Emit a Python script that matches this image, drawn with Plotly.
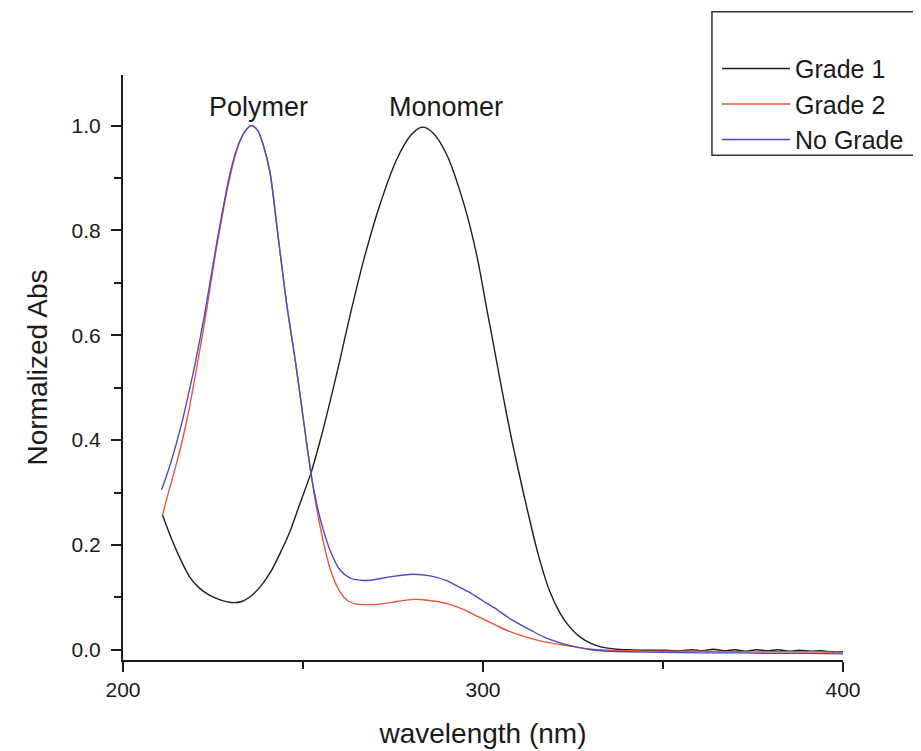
import plotly.graph_objects as go

# ---- data ----
wl_grade1 = [211, 212, 214, 216, 218.6, 221, 224, 227, 230, 233, 235.3, 238, 240.8, 243.5,
             246.4, 249, 252.2, 255, 257.5, 260, 263, 266.8, 271.4, 276, 280, 283, 286,
             289.9, 294.5, 298.2, 301, 303.3, 305.5, 308, 311.2, 313.3, 315.4, 318.5, 321.4,
             324, 327, 330, 333, 337, 340, 345, 350, 355, 358, 361, 364, 367, 370, 373, 376,
             379, 382, 385, 388, 391, 394, 397, 400]
abs_grade1 = [0.257, 0.238, 0.203, 0.172, 0.138, 0.119, 0.104, 0.095, 0.090, 0.092, 0.101,
              0.119, 0.146, 0.182, 0.226, 0.276, 0.337, 0.405, 0.473, 0.545, 0.636, 0.742,
              0.850, 0.935, 0.982, 0.997, 0.987, 0.945, 0.855, 0.755, 0.652, 0.568, 0.487,
              0.400, 0.300, 0.238, 0.180, 0.112, 0.070, 0.044, 0.024, 0.012, 0.005, 0.001,
              0.000, -0.001, -0.001, -0.002, 0.000, -0.002, 0.001, -0.002, 0.000, -0.003,
              0.000, -0.002, 0.000, -0.003, -0.001, -0.003, -0.002, -0.004, -0.004]

wl_grade2 = [211, 212, 213, 214, 215.5, 217, 218.5, 220, 222.8, 226, 229.7, 232, 234, 235.7,
             237.5, 239, 240.8, 243.1, 245.5, 248, 250, 252.2, 254, 255.5, 257.5, 260.3,
             262.5, 264.9, 268, 271.4, 276, 280.7, 284, 287.2, 291, 294.5, 299, 303.8, 308,
             313.1, 317, 321.4, 326, 330, 335, 340, 350, 360, 370, 380, 390, 400]
abs_grade2 = [0.257, 0.284, 0.309, 0.334, 0.372, 0.415, 0.464, 0.520, 0.630, 0.768, 0.902,
              0.961, 0.990, 1.000, 0.990, 0.962, 0.912, 0.788, 0.658, 0.545, 0.445, 0.337,
              0.262, 0.211, 0.155, 0.110, 0.093, 0.087, 0.086, 0.087, 0.092, 0.096, 0.095,
              0.092, 0.086, 0.077, 0.062, 0.046, 0.033, 0.022, 0.015, 0.010, 0.005, 0.001,
              -0.001, -0.002, -0.003, -0.003, -0.004, -0.004, -0.004, -0.005]

wl_nograde = [210.7, 212, 213.5, 215, 216.7, 218, 220, 222.8, 226, 229.7, 232, 234, 235.7,
              237.5, 239, 240.8, 243.1, 245.5, 248, 250, 252.2, 254, 255.5, 257.5, 260.3, 263,
              266.8, 270, 275, 280.7, 285.3, 289.9, 293, 296.4, 300, 303.8, 308, 313.1, 317,
              321.4, 326, 330, 335, 340, 350, 360, 370, 380, 390, 400]
abs_nograde = [0.305, 0.330, 0.362, 0.398, 0.443, 0.482, 0.545, 0.645, 0.775, 0.908, 0.963,
               0.990, 1.000, 0.990, 0.962, 0.912, 0.788, 0.658, 0.545, 0.445, 0.337, 0.272,
               0.232, 0.190, 0.152, 0.137, 0.132, 0.134, 0.140, 0.144, 0.141, 0.132, 0.121,
               0.109, 0.093, 0.077, 0.057, 0.038, 0.024, 0.013, 0.005, 0.000, -0.003, -0.004,
               -0.005, -0.006, -0.006, -0.007, -0.007, -0.008]

series_names = ["Grade 1", "Grade 2", "No Grade"]
series_colors = ["#1e1e1e", "#E8553A", "#4A4AC8"]
peak_labels = ["Polymer", "Monomer"]
peak_label_x = [237.5, 289.7]

x_ticks = [200, 300, 400]
y_ticks = [0.0, 0.2, 0.4, 0.6, 0.8, 1.0]

FONT = "Arial, 'Liberation Sans', sans-serif"
TXT = "#1a1a1a"

fig = go.Figure()
for name, xs, ys, col in zip(series_names,
                             [wl_grade1, wl_grade2, wl_nograde],
                             [abs_grade1, abs_grade2, abs_nograde],
                             series_colors):
    fig.add_trace(go.Scatter(x=xs, y=ys, mode="lines", name=name,
                             line=dict(color=col, width=1.4, shape="spline", smoothing=0.8)))

for lab, lx in zip(peak_labels, peak_label_x):
    fig.add_annotation(x=lx, y=1.036, xref="x", yref="y", text=lab, showarrow=False,
                       font=dict(family=FONT, size=27, color=TXT))

# legend frame
fig.add_shape(type="rect", xref="paper", yref="paper",
              x0=0.818, x1=1.104, y0=0.863, y1=1.108,
              line=dict(color="#333333", width=1.5), fillcolor="rgba(0,0,0,0)")

# the page body adds an 8px offset, so the figure is 8px smaller to fit the window
fig.update_layout(
    width=913, height=743,
    margin=dict(l=115, r=78, t=67, b=91, autoexpand=False),
    paper_bgcolor="white", plot_bgcolor="white",
    font=dict(family=FONT, color=TXT),
    showlegend=True,
    legend=dict(x=0.825, y=1.05, xanchor="left", yanchor="top",
                bgcolor="rgba(0,0,0,0)", borderwidth=0,
                font=dict(family=FONT, size=25, color=TXT),
                itemwidth=68, tracegroupgap=0),
    xaxis=dict(range=[200, 400], tickvals=x_ticks, ticktext=[str(v) for v in x_ticks],
               showgrid=False, zeroline=False, showline=True, linecolor="#1a1a1a", linewidth=2,
               ticks="outside", ticklen=10, tickwidth=2, tickcolor="#1a1a1a",
               tickfont=dict(family=FONT, size=21, color=TXT),
               minor=dict(dtick=50, tick0=200, ticks="outside", ticklen=7, tickwidth=2,
                          tickcolor="#1a1a1a", showgrid=False),
               title=dict(text="wavelength (nm)", font=dict(family=FONT, size=28, color=TXT),
                          standoff=23)),
    yaxis=dict(range=[-0.0196, 1.0966], tickvals=y_ticks,
               ticktext=[f"{v:.1f}" for v in y_ticks],
               showgrid=False, zeroline=False, showline=True, linecolor="#1a1a1a", linewidth=2,
               ticks="outside", ticklen=10, tickwidth=2, tickcolor="#1a1a1a",
               tickfont=dict(family=FONT, size=21, color=TXT), ticklabelstandoff=6,
               minor=dict(dtick=0.1, tick0=0, ticks="outside", ticklen=7, tickwidth=2,
                          tickcolor="#1a1a1a", showgrid=False),
               title=dict(text="Normalized Abs", font=dict(family=FONT, size=28, color=TXT),
                          standoff=16)),
)

fig.write_html("out.html")
